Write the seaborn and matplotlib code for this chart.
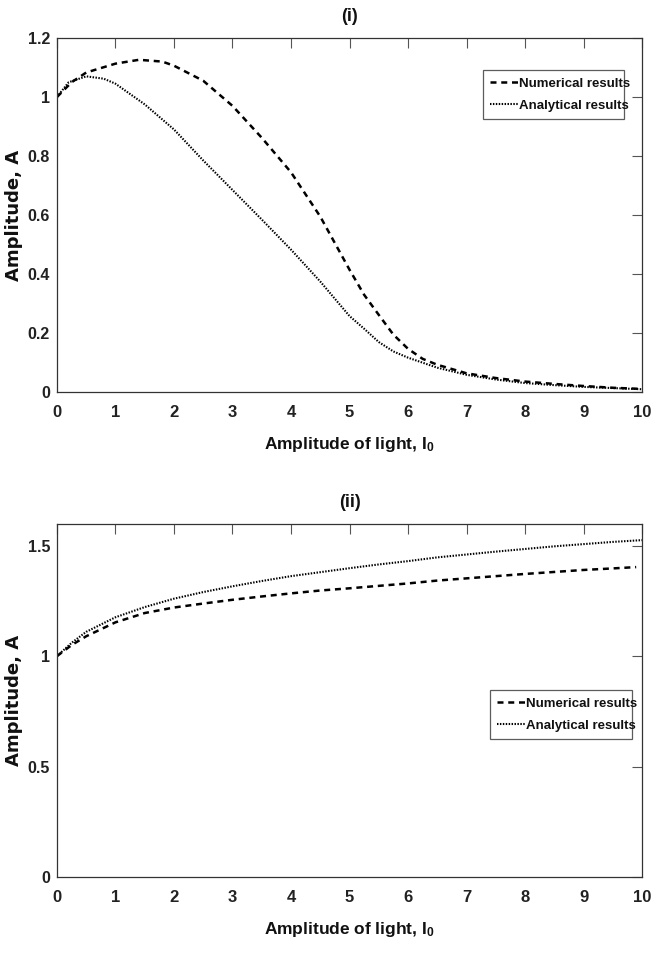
import matplotlib
matplotlib.use("Agg")
import matplotlib.pyplot as plt
import numpy as np
import pandas as pd
import seaborn as sns

# ---- data ----
# panel (i)
x_i_num = [0, 0.25, 0.5, 1.0, 1.4, 1.8, 2.0, 2.5, 3.0, 3.5, 4.0, 4.5, 5.0, 5.25,
           5.5, 5.75, 6.0, 6.25, 6.5, 7.0, 7.5, 8.0, 8.5, 9.0, 9.5, 10.0]
y_i_num = [1.0, 1.05, 1.083, 1.113, 1.126, 1.12, 1.106, 1.055, 0.97, 0.862, 0.745,
           0.595, 0.415, 0.33, 0.262, 0.195, 0.147, 0.113, 0.093, 0.064, 0.048,
           0.036, 0.028, 0.021, 0.015, 0.011]
x_i_ana = [0, 0.2, 0.5, 0.8, 1.0, 1.5, 2.0, 2.5, 3.0, 3.5, 4.0, 4.5, 5.0, 5.25,
           5.5, 5.75, 6.0, 6.5, 7.0, 7.5, 8.0, 8.5, 9.0, 9.5, 10.0]
y_i_ana = [1.0, 1.05, 1.07, 1.062, 1.045, 0.975, 0.89, 0.785, 0.685, 0.585, 0.483,
           0.375, 0.258, 0.215, 0.17, 0.138, 0.117, 0.083, 0.059, 0.043, 0.031,
           0.024, 0.018, 0.014, 0.01]
# panel (ii)
x_ii_num = [0, 0.25, 0.5, 1.0, 1.5, 2.0, 2.5, 3.0, 3.5, 4.0, 4.5, 5.0, 5.5, 6.0,
            6.5, 7.0, 7.5, 8.0, 8.5, 9.0, 9.5, 9.9]
y_ii_num = [1.0, 1.05, 1.09, 1.153, 1.195, 1.22, 1.238, 1.255, 1.27, 1.284, 1.297,
            1.307, 1.318, 1.329, 1.342, 1.352, 1.362, 1.372, 1.381, 1.39, 1.397, 1.403]
x_ii_ana = [0, 0.25, 0.5, 1.0, 1.5, 2.0, 2.5, 3.0, 3.5, 4.0, 4.5, 5.0, 5.5, 6.0,
            6.5, 7.0, 7.5, 8.0, 8.5, 9.0, 9.5, 10.0]
y_ii_ana = [1.0, 1.06, 1.11, 1.176, 1.222, 1.26, 1.29, 1.316, 1.34, 1.362, 1.38,
            1.398, 1.415, 1.43, 1.447, 1.46, 1.473, 1.485, 1.497, 1.507, 1.517, 1.525]

x_ticks = list(range(0, 11))
y_ticks_i = [0, 0.2, 0.4, 0.6, 0.8, 1.0, 1.2]
y_tick_labels_i = ["0", "0.2", "0.4", "0.6", "0.8", "1", "1.2"]
y_ticks_ii = [0, 0.5, 1.0, 1.5]
y_tick_labels_ii = ["0", "0.5", "1", "1.5"]

titles = ["(i)", "(ii)"]
series_names = ["Numerical results", "Analytical results"]
x_label = r"Amplitude of light, I$_{\mathbf{0}}$"
y_label = "Amplitude, A"

# ---- styling ----
sns.set_theme(style="white")
plt.rcParams["font.family"] = ["Liberation Sans", "DejaVu Sans"]
plt.rcParams["font.weight"] = "bold"
plt.rcParams["mathtext.fontset"] = "custom"
plt.rcParams["mathtext.rm"] = "Liberation Sans:bold"
plt.rcParams["mathtext.bf"] = "Liberation Sans:bold"
plt.rcParams["mathtext.it"] = "Liberation Sans:bold"

fig = plt.figure(figsize=(6.52, 9.66), dpi=100)
ax1 = fig.add_axes([0.0874, 0.594, 0.8973, 0.3667])
ax2 = fig.add_axes([0.0874, 0.0921, 0.8973, 0.3659])

dash_style = (0, (2.4, 1.9))
dot_style = (0, (0.7, 0.7))


def draw(ax, xn, yn, xa, ya):
    dn = pd.DataFrame({"x": xn, "y": yn})
    da = pd.DataFrame({"x": xa, "y": ya})
    sns.lineplot(data=dn, x="x", y="y", ax=ax, color="black", lw=1.8,
                 linestyle=dash_style, sort=False, label=series_names[0])
    sns.lineplot(data=da, x="x", y="y", ax=ax, color="black", lw=1.5,
                 linestyle=dot_style, sort=False, label=series_names[1])


draw(ax1, x_i_num, y_i_num, x_i_ana, y_i_ana)
draw(ax2, x_ii_num, y_ii_num, x_ii_ana, y_ii_ana)

for ax, title, yt, ytl, ylim, legloc in [
        (ax1, titles[0], y_ticks_i, y_tick_labels_i, (0, 1.2), (0.728, 0.771, 0.241, 0.181)),
        (ax2, titles[1], y_ticks_ii, y_tick_labels_ii, (0, 1.6), (0.740, 0.390, 0.243, 0.181))]:
    ax.set_xlim(0, 10)
    ax.set_ylim(*ylim)
    ax.set_xticks(x_ticks)
    ax.set_xticklabels([str(v) for v in x_ticks])
    ax.set_yticks(yt)
    ax.set_yticklabels(ytl)
    ax.tick_params(direction="in", length=7, width=0.8, color="#555555",
                   top=True, right=True, labelsize=12)
    ax.tick_params(axis="x", pad=9)
    ax.tick_params(axis="y", pad=5, labelsize=11.5)
    for lab in ax.get_xticklabels() + ax.get_yticklabels():
        lab.set_fontweight("bold")
        lab.set_color("#222222")
    for s in ax.spines.values():
        s.set_color("#333333")
        s.set_linewidth(0.9)
    ax.set_title(title, fontsize=13, fontweight="bold", pad=12, color="#111111")
    ax.set_xlabel(x_label, fontsize=12.5, fontweight="bold", labelpad=11, color="#111111")
    ax.set_ylabel(y_label, fontsize=13, fontweight="bold",
                  family="DejaVu Sans", color="#111111")
    ax.yaxis.set_label_coords(-0.058, 0.5)
    leg = ax.legend(loc="lower left", bbox_to_anchor=legloc, mode="expand",
                    frameon=True, fancybox=False, handlelength=2.1,
                    handletextpad=0.1, borderpad=0.55, labelspacing=0.75,
                    borderaxespad=0, prop={"size": 9.5, "weight": "bold"})
    leg.get_frame().set_edgecolor("#333333")
    leg.get_frame().set_linewidth(0.9)
    for t in leg.get_texts():
        t.set_color("#111111")

fig.savefig("out.png", dpi=100)
